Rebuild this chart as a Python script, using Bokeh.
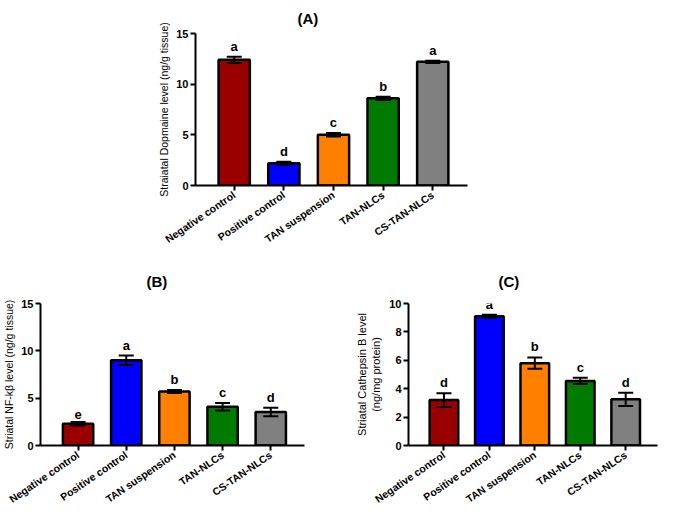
import math
from bokeh.plotting import figure
from bokeh.models import (Range1d, FixedTicker, ColumnDataSource, Whisker, TeeHead,
                          LabelSet, Title)
from bokeh.core.properties import value
from bokeh.layouts import column, row
from bokeh.embed import file_html
from bokeh.resources import INLINE

groups = ["Negative control", "Positive control", "TAN suspension", "TAN-NLCs", "CS-TAN-NLCs"]
colors = ["#9A0000", "#0000FF", "#FF8000", "#007A00", "#808080"]

dopamine_mean = [12.4, 2.2, 5.0, 8.6, 12.2]
dopamine_sem = [0.3, 0.15, 0.17, 0.17, 0.12]
dopamine_letters = ["a", "d", "c", "b", "a"]

nfkb_mean = [2.3, 9.0, 5.7, 4.1, 3.55]
nfkb_sem = [0.18, 0.5, 0.15, 0.4, 0.45]
nfkb_letters = ["e", "a", "b", "c", "d"]

cathepsin_mean = [3.2, 9.1, 5.8, 4.55, 3.25]
cathepsin_sem = [0.48, 0.1, 0.4, 0.22, 0.47]
cathepsin_letters = ["d", "a", "b", "c", "d"]

FONT = "Liberation Sans"


def make_panel(title, title_offset, title_standoff, ylabel, ylabel_size, means, sems,
               letters, ymax, yticks, width, height, bl, br, bt, bb, label_standoff):
    idx = list(range(len(groups)))
    p = figure(width=width, height=height, x_range=Range1d(-0.78, 4.7),
               y_range=Range1d(0, ymax), output_backend="svg", toolbar_location=None,
               min_border_left=bl, min_border_right=br, min_border_top=bt,
               min_border_bottom=bb)
    p.title = Title(text=title, align="left", offset=title_offset,
                    standoff=title_standoff,
                    text_font=FONT, text_font_size="15px", text_font_style="bold",
                    text_color="black")
    p.outline_line_color = None
    p.xgrid.visible = False
    p.ygrid.visible = False
    p.background_fill_color = "white"
    p.border_fill_color = "white"

    src = ColumnDataSource(dict(
        x=idx, top=means,
        upper=[m + s for m, s in zip(means, sems)],
        lower=[m - s for m, s in zip(means, sems)],
        letter=letters, color=colors))
    p.vbar(x="x", top="top", width=0.63, fill_color="color", line_color="black",
           line_width=2.5, source=src)
    wh = Whisker(base="x", upper="upper", lower="lower", source=src,
                 line_color="black", line_width=2,
                 upper_head=TeeHead(size=15, line_width=2, line_color="black"),
                 lower_head=TeeHead(size=15, line_width=2, line_color="black"),
                 level="overlay")
    p.add_layout(wh)
    lab = LabelSet(x="x", y="upper", text="letter", source=src, text_align="center",
                   text_baseline="bottom", y_offset=3, text_font=value(FONT),
                   text_font_size="13px", text_font_style="bold", text_color="black")
    p.add_layout(lab)

    p.xaxis.ticker = FixedTicker(ticks=idx)
    p.xaxis.major_label_overrides = {i: g for i, g in enumerate(groups)}
    p.xaxis.major_label_orientation = 0.6
    p.yaxis.ticker = FixedTicker(ticks=yticks)
    for ax in (p.xaxis, p.yaxis):
        ax.axis_line_width = 2
        ax.axis_line_color = "black"
        ax.major_tick_line_width = 2
        ax.major_tick_line_color = "black"
        ax.major_tick_out = 5
        ax.major_tick_in = 0
        ax.minor_tick_line_color = None
        ax.major_label_text_font = FONT
        ax.major_label_text_font_style = "bold"
        ax.major_label_text_color = "black"
    p.xaxis.major_label_text_font_size = "10.5px"
    p.yaxis.major_label_text_font_size = "11px"
    p.xaxis.major_label_standoff = 3
    p.yaxis.major_label_standoff = 2
    p.yaxis.axis_label = ylabel
    p.yaxis.axis_label_text_font = FONT
    p.yaxis.axis_label_text_font_size = ylabel_size
    p.yaxis.axis_label_text_font_style = "normal"
    p.yaxis.axis_label_text_color = "black"
    p.yaxis.axis_label_standoff = label_standoff
    return p


pA = make_panel("(A)", 102, 14, "Straiatal Dopmaine level (ng/g tissue)", "10.5px",
                dopamine_mean, dopamine_sem, dopamine_letters, 15, [0, 5, 10, 15],
                660, 252, 195, 193, 26, 66, 3)
pB = make_panel("(B)", 106, 27, "Striatal NF-kβ level (ng/g tissue)", "10.5px",
                nfkb_mean, nfkb_sem, nfkb_letters, 15, [0, 5, 10, 15],
                332, 260, 32, 28, 51, 66, 3)
pC = make_panel("(C)", 90, 27, "Striatal Cathepsin B level\n(ng/mg protein)", "11px",
                cathepsin_mean, cathepsin_sem, cathepsin_letters, 10, [0, 2, 4, 6, 8, 10],
                328, 260, 76, 3, 51, 66, 4)

layout = column(pA, row(pB, pC))
open("out.html", "w").write(file_html(layout, INLINE))
